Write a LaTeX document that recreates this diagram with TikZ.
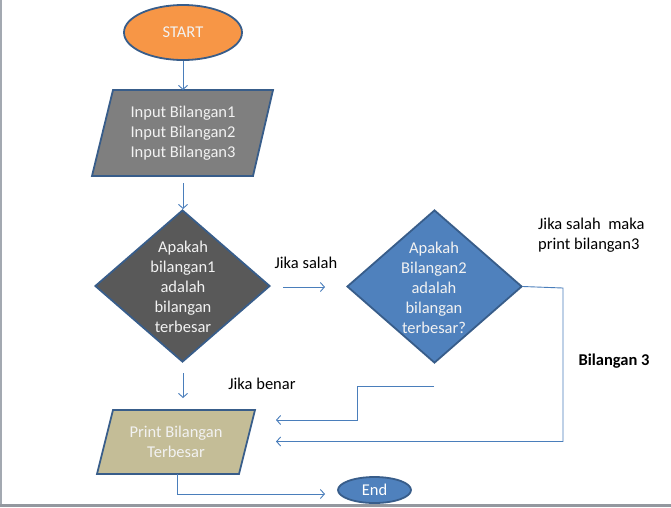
\documentclass[tikz,border=0pt]{standalone}
\usepackage{fontspec}
\setmainfont{Carlito}
\usetikzlibrary{shapes.geometric,arrows.meta}
\definecolor{bord}{HTML}{385D8A}
\definecolor{connc}{HTML}{4A7EBB}
\definecolor{orng}{HTML}{F79646}
\definecolor{blu}{HTML}{4F81BD}
\definecolor{dgray}{HTML}{595959}
\definecolor{mgray}{HTML}{7F7F7F}
\definecolor{tanc}{HTML}{C4BD97}
\definecolor{frame}{HTML}{A3A9B1}
\definecolor{ltext}{HTML}{F2F2F2}
\begin{document}
\begin{tikzpicture}[x=1pt,y=-1pt,
  shapebd/.style={draw=bord, line width=1.8pt},
  connector/.style={draw=connc, line width=0.9pt, -{Straight Barb[length=4pt,width=9pt]}},
  plainline/.style={draw=connc, line width=0.9pt},
  txt/.style={font=\fontsize{16.5}{20}\selectfont, align=center, inner sep=0pt},
  lbl/.style={font=\fontsize{16.5}{20}\selectfont, align=left, inner sep=0pt, text=black},
  diam/.style={shapebd, shape=diamond, inner sep=0pt, minimum width=175pt, minimum height=152pt},
  ell/.style={shapebd, shape=ellipse, inner sep=0pt}]
\useasboundingbox (0,0) rectangle (671,507);
\fill[white] (0,0) rectangle (671,507);
% frame
\fill[frame] (0,0) rectangle (1.5,507);
\fill[frame!90!black] (0,503.5) rectangle (671,507);

% START
\node[ell, fill=orng, minimum width=118pt, minimum height=55pt] (start) at (183,32.5) {};
\node[txt, text=ltext] (startt) at (start.center) {START};

% Input parallelogram
\draw[shapebd, fill=mgray] (113,90) -- (273,90) -- (253,176) -- (92,176) -- cycle;
\coordinate (inT) at (183,90);
\coordinate (inB) at (183,183);
\node[txt, text=ltext] (inp) at (183,133) {Input Bilangan1\\Input Bilangan2\\Input Bilangan3};

% Diamond 1
\node[diam, fill=dgray] (d1) at (182.5,286) {};
\node[txt, text=ltext] (d1t) at (183,287) {Apakah\\bilangan1\\adalah\\bilangan\\terbesar};

% Diamond 2
\node[diam, fill=blu, minimum height=153pt] (d2) at (434.5,286.5) {};
\node[txt, text=ltext] (d2t) at (434,288) {Apakah\\Bilangan2\\adalah\\bilangan\\terbesar?};

% Print parallelogram
\draw[shapebd, fill=tanc] (113,410) -- (255,410) -- (239,474) -- (97,474) -- cycle;
\node[txt, text=ltext] (prt) at (176,442) {Print Bilangan\\Terbesar};
\coordinate (prB) at (177,474);

% End
\node[ell, fill=blu, minimum width=73pt, minimum height=26pt] (endn) at (374.5,490) {};
\node[txt, text=white] (endt) at (endn.center) {End};

% labels
\node[lbl] (ljs) at (306,263) {Jika salah};
\node[lbl] (ljb) at (262,384) {Jika benar};
\node[lbl, anchor=west] (ljsm) at (538,235) {Jika salah\ \ maka\\print bilangan3};
\node[lbl, font=\fontsize{16.5}{20}\selectfont\bfseries] (lb3) at (614,361) {Bilangan 3};

% connectors
\coordinate (a1s) at (183,61);
\draw[connector] (a1s) -- (inT);
\coordinate (a2e) at (183,209);
\draw[connector] (inB) -- (a2e);
\coordinate (a3s) at (283,287);
\coordinate (a3e) at (325,287);
\draw[connector] (a3s) -- (a3e);
\coordinate (a4s) at (183,373);
\coordinate (a4e) at (183,398);
\draw[connector] (a4s) -- (a4e);

\coordinate (r1) at (563,288);
\coordinate (r2) at (563,441.5);
\coordinate (r3) at (276,441.5);
\draw[connector] (d2.east) -- (r1) -- (r2) -- (r3);

\coordinate (s1) at (434,386);
\coordinate (s2) at (357,386);
\coordinate (s3) at (357,420);
\coordinate (s4) at (276,420);
\draw[connector] (s1) -- (s2) -- (s3) -- (s4);

\coordinate (e1) at (177,494);
\coordinate (e2) at (325,494);
\draw[connector] (prB) -- (e1) -- (e2);
\end{tikzpicture}
\end{document}
